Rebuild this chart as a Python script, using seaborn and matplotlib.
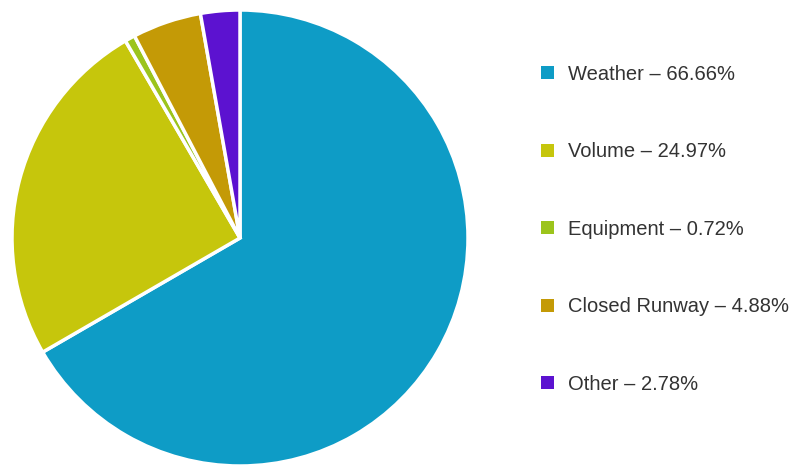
import matplotlib
matplotlib.use("Agg")
import matplotlib.pyplot as plt
import seaborn as sns

categories = ["Weather", "Volume", "Equipment", "Closed Runway", "Other"]
values = [66.66, 24.97, 0.72, 4.88, 2.78]
colors = ["#0e9cc6", "#c6c60c", "#9cc41c", "#c49a06", "#5c12d0"]

sns.set_theme(style="white")
plt.rcParams['font.family'] = ['Liberation Sans', 'DejaVu Sans']

fig = plt.figure(figsize=(7.91, 4.66), dpi=100)
ax = fig.add_axes([12/791, 0/466, 456/791, 456/466])
wedges, _ = ax.pie(values, colors=colors, startangle=90, counterclock=False,
                   radius=1, wedgeprops=dict(edgecolor="white", linewidth=2.5))
ax.set_xlim(-1, 1)
ax.set_ylim(-1, 1)
ax.set_aspect("equal")
ax.axis("off")

labels = [f"{c} \u2013 {v:.2f}%" for c, v in zip(categories, values)]
leg = fig.legend(wedges, labels, loc="upper left", bbox_to_anchor=(533/791, 1 - 57/466),
                 frameon=False, fontsize=14.5, labelspacing=2.9, handlelength=0.62,
                 handleheight=0.62, handletextpad=0.7, borderaxespad=0)
for h in leg.legend_handles:
    h.set_edgecolor("none")
for t in leg.get_texts():
    t.set_color("#333333")

fig.savefig("out.png", dpi=100, facecolor="white")
